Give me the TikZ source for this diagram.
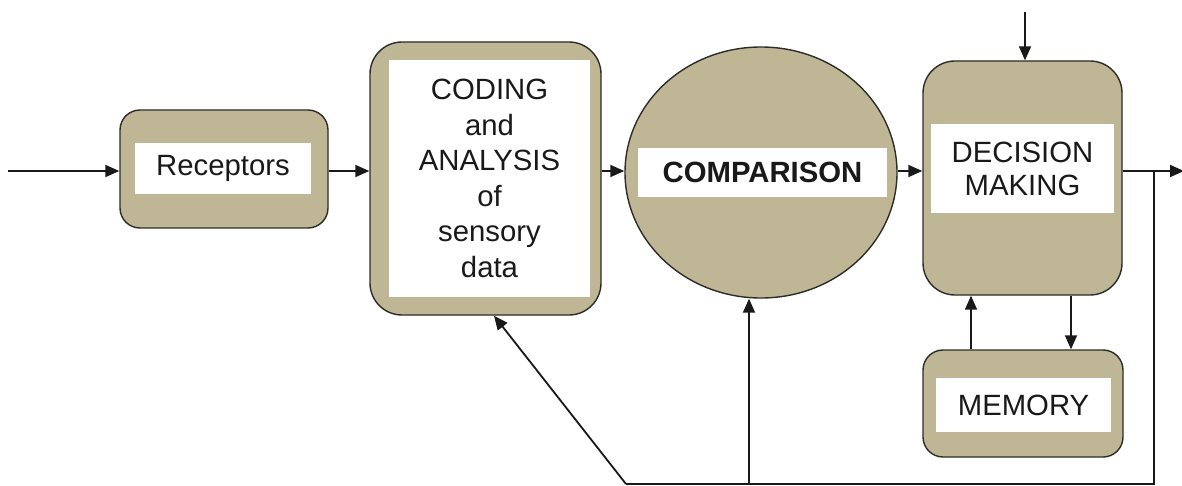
\documentclass[tikz,border=0pt]{standalone}
\usepackage{fontspec}
\setmainfont{Liberation Sans}
\usetikzlibrary{arrows.meta,shapes.geometric}
\definecolor{khaki}{RGB}{191,182,150}
\definecolor{edge}{RGB}{45,45,40}
\tikzset{
  block/.style={draw=edge, line width=1.4pt, fill=khaki, inner sep=0pt},
  label/.style={fill=white, inner sep=0pt, align=center, text=black!90,
    font=\fontsize{29.3}{35.5}\selectfont},
  flow/.style={line width=1.8pt, draw=black!90,
    -{Triangle[length=14pt,width=12pt]}},
  wire/.style={line width=1.8pt, draw=black!90},
}
\begin{document}
\begin{tikzpicture}[x=1pt,y=-1pt]
\useasboundingbox (0,0) rectangle (1182,486);

% blocks
\node[block, rounded corners=20pt, minimum width=208pt, minimum height=118pt] (rec) at (224,169) {};
\node[label, minimum width=176pt, minimum height=51pt] (recT) at (223,168.5) {Receptors};

\node[block, rounded corners=32pt, minimum width=231pt, minimum height=273pt] (cod) at (485.5,178.5) {};
\node[label, minimum width=201pt, minimum height=237pt] (codT) at (489.5,178.5)
  {CODING\\and\\ANALYSIS\\of\\sensory\\data};

\node[block, ellipse, minimum width=272pt, minimum height=251pt] (cmp) at (761,172.5) {};
\node[label, minimum width=249pt, minimum height=49pt] (cmpT) at (762.5,172.5) {\bfseries COMPARISON};

\node[block, rounded corners=32pt, minimum width=199pt, minimum height=234pt] (dec) at (1022.5,178) {};
\node[label, minimum width=183pt, minimum height=89pt, font=\fontsize{29.3}{33}\selectfont] (decT) at (1022.5,168.5)
  {DECISION\\MAKING};

\node[block, rounded corners=20pt, minimum width=200pt, minimum height=107pt] (mem) at (1023,403.5) {};
\node[label, minimum width=175pt, minimum height=54pt] (memT) at (1023.5,405) {MEMORY};

% reference points for the connectors
\coordinate (in) at (8,171);
\coordinate (lvl) at (0,171);
\coordinate (top) at (1025,12);
\coordinate (out) at (1184,171);
\coordinate (br) at (1154,171);
\coordinate (bot) at (1154,484);
\coordinate (botL) at (626,484);
\coordinate (fbA) at (494,0);
\coordinate (fbB) at (749,0);
\coordinate (mUp) at (971,0);
\coordinate (mDn) at (1071,0);

% forward path
\draw[flow] (in) -- (in -| rec.west);
\draw[flow] (rec.east |- lvl) -- (cod.west |- lvl);
\draw[flow] (cod.east |- lvl) -- (cmp.west |- lvl);
\draw[flow] (cmp.east |- lvl) -- (dec.west |- lvl);
\draw[flow] (top) -- (top |- dec.north);
\draw[flow] (dec.east |- lvl) -- (out);

% feedback loop
\draw[wire] (br) -- (bot) -- (botL);
\draw[flow] (botL) -- (fbA |- cod.south);
\draw[flow] (fbB |- bot) -- (fbB |- cmp.south);

% memory exchange
\draw[flow] (mUp |- mem.north) -- (mUp |- dec.south);
\draw[flow] (mDn |- dec.south) -- (mDn |- mem.north);
\end{tikzpicture}
\end{document}
